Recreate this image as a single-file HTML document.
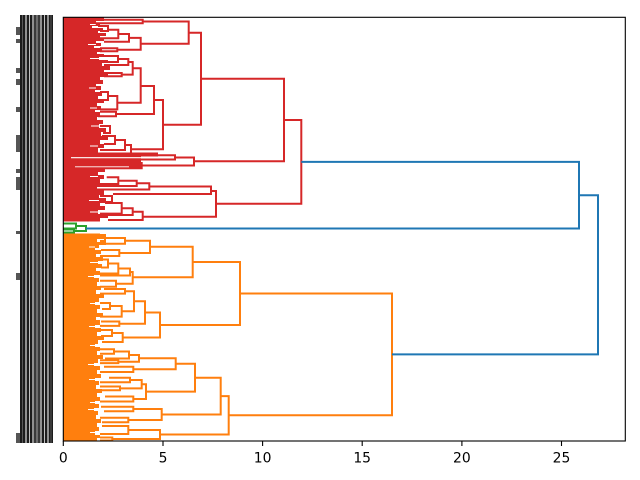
<!DOCTYPE html>
<html><head><meta charset="utf-8"><style>
html,body{margin:0;padding:0;background:#fff;}
svg{display:block;}
text{font-family:"DejaVu Sans","Liberation Sans",sans-serif;font-size:13.9px;fill:#000;}
</style></head><body>
<svg width="640" height="480" xmlns="http://www.w3.org/2000/svg">
<rect width="640" height="480" fill="#fff"/>
<rect x="20" y="15" width="33" height="428" fill="#1c1c1c"/>
<path d="M26 15V443M33 15V443M41 15V443M48 15V443" stroke="#fff" stroke-width="1.2" opacity="0.85"/>
<path d="M29.5 15V443M37 15V443M44.5 15V443" stroke="#fff" stroke-width="0.9" opacity="0.8"/>
<path d="M22.5 15V443M35 15V443M39 15V443M51 15V443" stroke="#999" stroke-width="0.8" opacity="0.6"/>
<path fill="#555" d="M16 27h4v8h-4zM16 39h4v4h-4zM16 68h4v5h-4zM16 79h4v6h-4zM16 107h4v5h-4zM16 135h4v17h-4zM16 169h4v4h-4zM16 177h4v13h-4zM16 231h4v3h-4zM16 273h4v7h-4zM16 433h4v10h-4z"/>
<polygon fill="#d62728" points="63,17 104,17 104,21 96,21 96,23.5 100,23.5 100,26 92,26 92,28 103,28 103,31 98,31 98,33 106,33 106,36 100,36 100,38.5 104,38.5 104,41 96,41 96,43 101,43 101,46 94,46 94,48 102,48 102,52 97,52 97,54 104,54 104,57 99,57 99,60 108,60 108,63 102,63 102,66 110,66 110,70 104,70 104,72 108,72 108,77 100,77 100,80 103,80 103,84 96,84 96,86 101,86 101,90 95,90 95,92 102,92 102,96 98,96 98,99 104,99 104,103 97,103 97,106 101,106 101,110 95,110 95,112 100,112 100,117 97,117 97,120 103,120 103,124 99,124 99,128 106,128 106,132 101,132 101,136 108,136 108,140 100,140 100,144 104,144 104,148 98,148 98,152.5 158,152.5 158,156.5 141,156.5 141,169 105,169 105,172 98,172 98,175 104,175 104,179 100,179 100,183 103,183 103,187 97,187 97,190 104,190 104,195 99,195 99,198 106,198 106,203 100,203 100,206 105,206 105,210 98,210 98,214 108,214 108,218 100,218 100,221.5 63,221.5"/>
<path stroke="#fff" stroke-width="1.1" d="M71 157.7H157M75 166.9H129M90 24.5H96M88 44.5H96M90 58.5H99M89 88H96M90 108H97M91 126H99M90 146H98M90 176.5H98M89 200.5H99M90 212H98"/>
<polygon fill="#ff7f0e" points="63,233.5 100,233.5 100,236 104,236 104,239 97,239 97,242 106,242 106,245 99,245 99,248 95,248 95,250 101,250 101,254 96,254 96,257 103,257 103,261 98,261 98,264 102,264 102,268 96,268 96,271 100,271 100,275 94,275 94,278 99,278 99,282 97,282 97,286 101,286 101,290 96,290 96,294 104,294 104,298 99,298 99,302 95,302 95,305 100,305 100,309 97,309 97,313 103,313 103,317 96,317 96,320 100,320 100,325 95,325 95,328 101,328 101,332 97,332 97,336 104,336 104,340 98,340 98,344 95,344 95,347 100,347 100,351 97,351 97,355 103,355 103,359 98,359 98,363 94,363 94,366 100,366 100,370 97,370 97,374 101,374 101,378 95,378 95,381 99,381 99,385 96,385 96,389 102,389 102,393 97,393 97,397 100,397 100,401 95,401 95,404 99,404 99,408 94,408 94,411 98,411 98,415 96,415 96,419 101,419 101,423 97,423 97,427 99,427 99,431 95,431 95,435 100,435 100,438 97,438 97,441 63,441"/>
<path stroke="#fff" stroke-width="1" d="M89 247H95M90 262.5H98M88 276.5H94M90 303.5H95M89 326.5H95M90 345.5H95M88 364.5H94M89 379.5H95M90 402.5H95M88 409.5H94M90 432.5H95"/>
<path fill="none" stroke="#d62728" stroke-width="2" d="M284 120H301.3V203.7H216M201 78.7H284V161.3H194M188.7 32.7H201V124.7H163M142.7 21.5H188.7V43.8H140.7M103 19.7H142.7V23.3H95M129 37.9H140.7V49.8H117.3M118.3 34H129V41.7H104M107 29.7H118.3V38.3H100M98 26H108V31H100M100 48.3H117.3V51.3H100M154 100H163V149.3H131M140.7 86H154V114H116M132.7 68.3H140.7V102.7H117.3M128.3 62H132.7V74.6H121.7M118 59H128.3V65H104M104 56H118V62H102M104 73H121.7V76.2H104M108 96H117.3V109.4H100M100 92H108V100H98M100 111.7H116V116.3H98M125 145H131V153.6H110M115 140H125V150H100M102 136H115V144H104M100 126H110V133H103M175 157.5H194V165.5H141.7M158 155.3H175V159.5H71M130 163H141.7V168.3H75M211 191H216V216.7H142.7M149.3 186.5H211V194H113M136.7 183.3H149.3V189.5H93M118.3 180.7H136.7V186H100M106.7 177.3H118.3V184H100M132.7 211.7H142.7V220H108M121.7 208.3H132.7V215H100M105 203H121.7V213.6H100M100 196H112V202H103"/>
<path fill="none" stroke="#2ca02c" stroke-width="2" d="M63 223.5H76V228.5H63M63 229.5H74V232.5H63M76 226H86V231H74"/>
<path fill="none" stroke="#ff7f0e" stroke-width="2" d="M240 293.5H392V415.3H228.7M192.7 262H240V325H160M150 246.7H192.7V277.3H132.7M125 240.8H150V253H119.3M105 238H125V243.7H106M98 235H105V241H100M101 250H119.3V256H100M130 272H132.7V283.7H116M118.3 268.5H130V275.5H100M108 263.5H118.3V273.5H100M100 259.5H108V267.5H101M100 280.7H116V286.7H100M145 312.5H160V337.5H122.7M134 301.3H145V323.7H119.3M125 291.3H134V311.3H121.7M104 289H125V293.6H100M110 306H121.7V316.6H100M100 303H110V309H102M101 321.5H119.3V325.9H100M112 333H122.7V342H102M100 330H112V336H101M220.7 396.1H228.7V434.5H160M195 377.7H220.7V414.5H161.7M175.7 363.8H195V391.6H146M139 358.3H175.7V369.3H133.3M129 355H139V361.7H118.3M114 351.5H129V358.5H105M100 349.3H114V353.7H100M100 360.3H118.3V363.1H100M104 366.7H133.3V372H100M141.7 384.2H146V399H133.3M130 380H141.7V388.4H120M109 377.7H130V382.3H100M100 386.5H120V390.3H101M105 396.5H133.3V401.5H100M133.3 409H161.7V420H128.3M101 406.7H133.3V411.3H104M100 417.7H128.3V422.3H102M128.3 430H160V439H112.3M102 426H128.3V434H100M100 437.5H112.3V440.5H100"/>
<path fill="none" stroke="#1f77b4" stroke-width="2" d="M301.3 161.85H579V228.5H86M579 195.2H598V354.4H392"/>
<rect x="63.3" y="17.3" width="562" height="423.7" fill="none" stroke="#000" stroke-width="1.1"/>
<path stroke="#000" stroke-width="1.1" d="M63.3 441V446M163 441V446M262.6 441V446M362.2 441V446M461.9 441V446M561.5 441V446"/>
<g text-anchor="middle">
<text x="63.3" y="462.7">0</text>
<text x="163" y="462.7">5</text>
<text x="262.6" y="462.7">10</text>
<text x="362.2" y="462.7">15</text>
<text x="461.9" y="462.7">20</text>
<text x="561.5" y="462.7">25</text>
</g>
</svg>
</body></html>
